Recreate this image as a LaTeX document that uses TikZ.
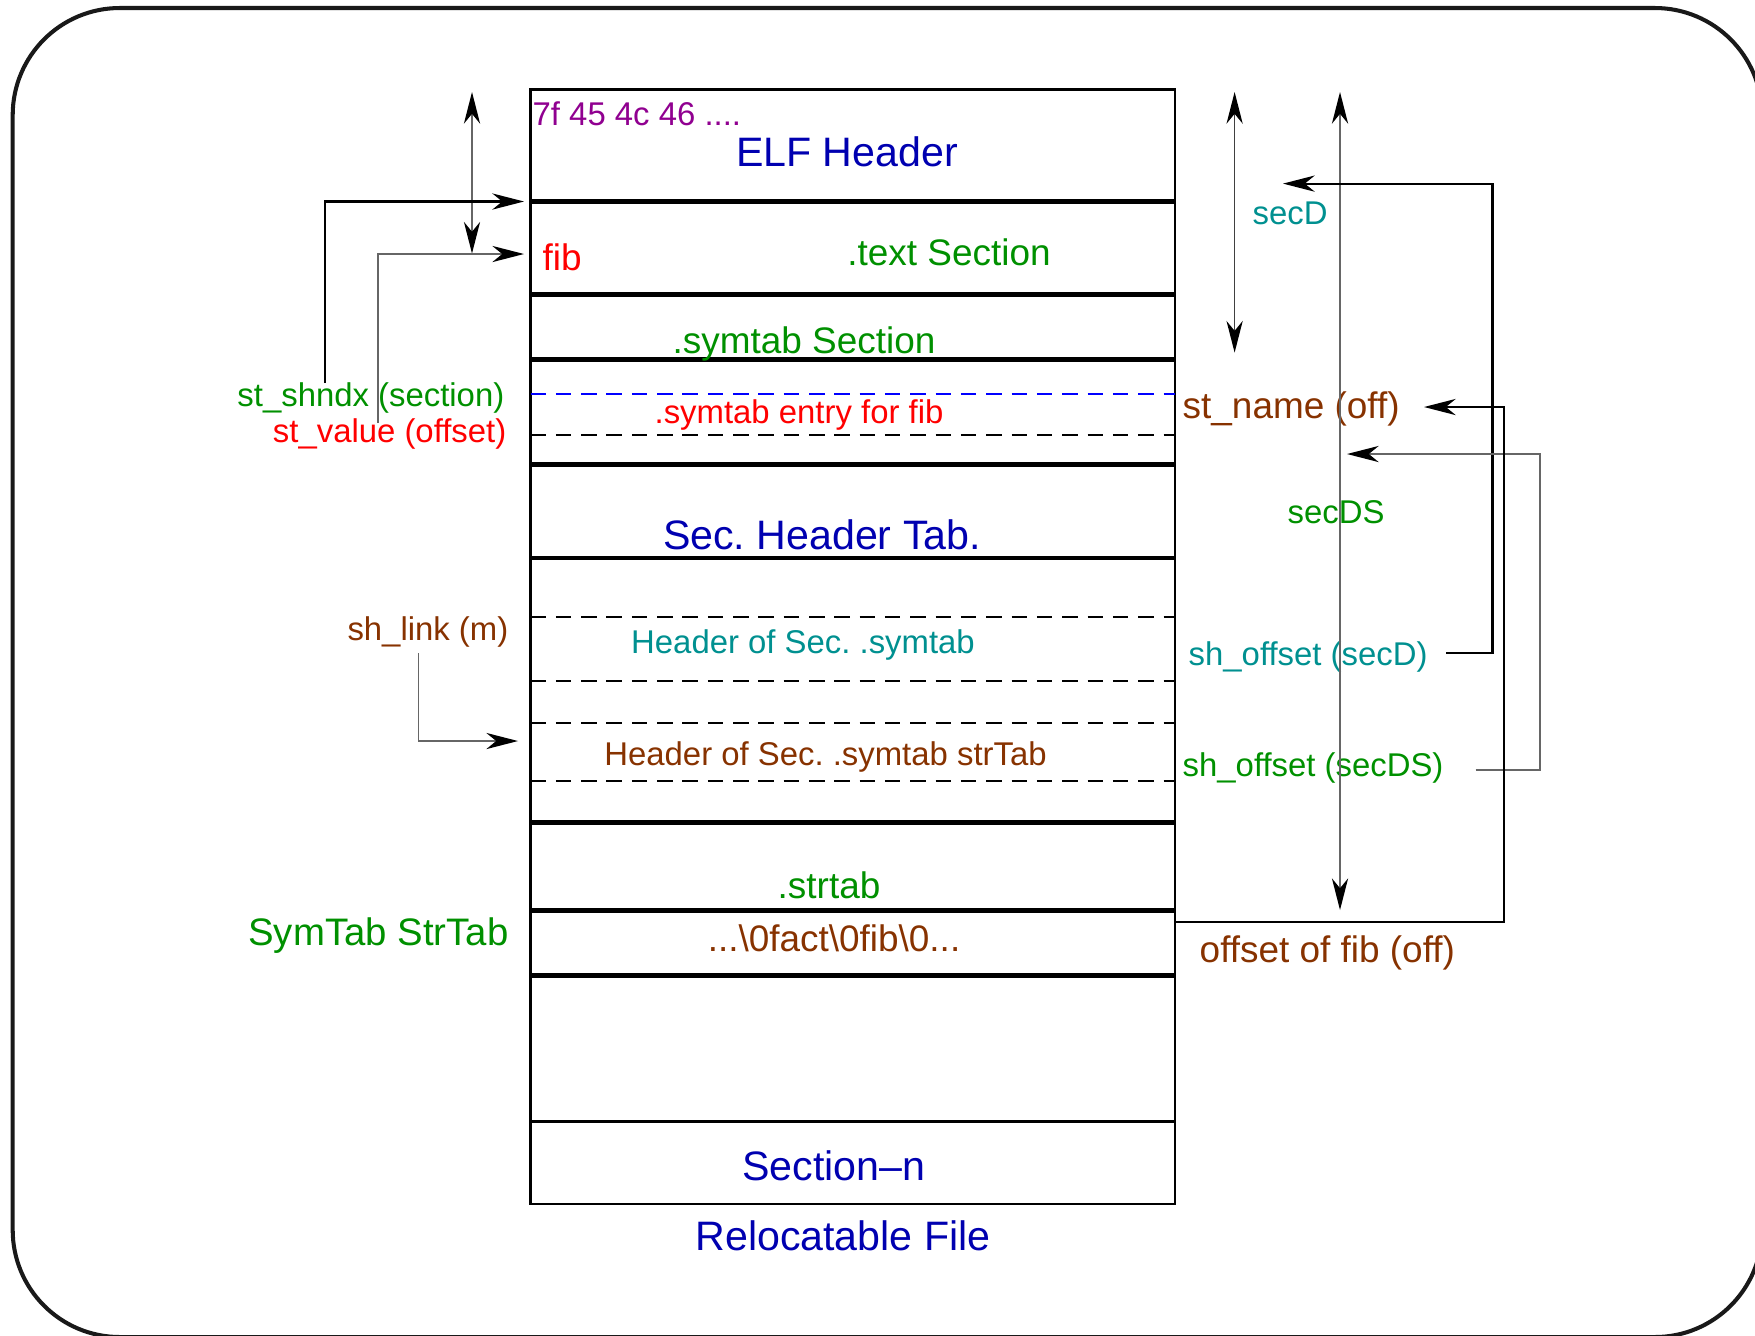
\documentclass[tikz,border=0pt]{standalone}
\usepackage{fontspec}
\setmainfont{Liberation Sans}
\usepackage{tikz}
\usetikzlibrary{arrows.meta}
\definecolor{FigBlue}{RGB}{0,0,176}
\definecolor{FigGreen}{RGB}{0,144,0}
\definecolor{FigCyan}{RGB}{0,144,144}
\definecolor{FigBrown}{RGB}{135,50,0}
\definecolor{FigPurple}{RGB}{144,0,144}
\frenchspacing

\begin{document}
\begin{tikzpicture}[x=0.01cm, y=-0.01cm,
            lbl/.style={inner sep=0pt, font=\fontsize{9.35}{11}\selectfont},
            lblm/.style={inner sep=0pt, font=\fontsize{10.5}{12}\selectfont},
            lbll/.style={inner sep=0pt, font=\fontsize{11.7}{14}\selectfont},
            frame/.style={line width=1.15pt, black!90, rounded corners=1.07cm},
            outline/.style={line width=0.7pt},
            sepline/.style={line width=1.3pt},
            dshline/.style={line width=0.6pt, dash pattern=on 4.4pt off 2.8pt},
            arr/.style={-{Stealth[length=9pt, width=4.6pt, inset=2.8pt, color=black]}, line width=0.6pt},
            arrg/.style={-{Stealth[length=9pt, width=4.6pt, inset=2.8pt, color=black]}, line width=0.45pt, black!60},
            darr/.style={{Stealth[length=9pt, width=4.6pt, inset=2.8pt, color=black]}-{Stealth[length=9pt, width=4.6pt, inset=2.8pt, color=black]}, line width=0.45pt, black!60}
          ]
          \useasboundingbox (0,0) rectangle (1755,1335);
          \draw[frame] (12.7,8) rectangle (1762,1337);

          \draw[outline] (530.5,89.5) rectangle (1175,1204);
          \foreach \y in {201.5,294.5,359.5,464.5,558,822.7,910.5,975.5}
            \draw[sepline] (530.5,\y) -- (1175,\y);
          \draw[outline] (530.5,1121.5) -- (1175,1121.5);
          \foreach \y in {435,617,681,723,781}
            \draw[dshline] (530.5,\y) -- (1175,\y);
          \draw[dshline, blue] (530.5,394) -- (1175,394);

          \node[lbl, text=FigPurple, anchor=base west] (magic) at (532,125) {7f 45 4c 46 ....};
          \node[lbll, text=FigBlue, anchor=base]   (elfhdr)  at (847,166)  {ELF Header};
          \node[lblm, text=red, anchor=base west]  (fib)     at (542,270)  {fib};
          \node[lblm, text=FigGreen, anchor=base]  (textsec) at (949,265)  {.text Section};
          \node[lblm, text=FigGreen, anchor=base]  (symsec)  at (804,353)  {.symtab Section};
          \node[lbl, text=red, anchor=base]        (symfib)  at (799,423)  {.symtab entry for fib};
          \node[lbll, text=FigBlue, anchor=base]   (shtab)   at (822,549)  {Sec. Header Tab.};
          \node[lbl, text=FigCyan, anchor=base]    (hdrsym)  at (803,653)  {Header of Sec. .symtab};
          \node[lbl, text=FigBrown, anchor=base]   (hdrstr)  at (825.5,765) {Header of Sec. .symtab strTab};
          \node[lblm, text=FigGreen, anchor=base]  (strtab)  at (829,898)  {.strtab};
          \node[lblm, text=FigBrown, anchor=base]  (strs)    at (834,951)  {...\textbackslash 0fact\textbackslash 0fib\textbackslash 0...};
          \node[lbll, text=FigBlue, anchor=base]   (secn)    at (834,1180) {Section–n};
          \node[lbll, text=FigBlue, anchor=base]   (relfile) at (843,1250) {Relocatable File};

          \node[lbl, text=FigGreen, anchor=base east]  (shndx)  at (505,406) {st\_shndx (section)};
          \node[lbl, text=red, anchor=base east]       (value)  at (507,442) {st\_value (offset)};
          \node[lbl, text=FigBrown, anchor=base east]  (shlink) at (509,640) {sh\_link (m)};
          \node[lblm, text=FigGreen, anchor=base east, font=\fontsize{10.9}{13}\selectfont] (symstr) at (509,945) {SymTab StrTab};

          \node[lbl, text=FigCyan, anchor=base west]   (secd)   at (1252,224) {secD};
          \node[lblm, text=FigBrown, anchor=base west] (stname) at (1182,418) {st\_name (off)};
          \node[lbl, text=FigGreen, anchor=base west]  (secds)  at (1287,523) {secDS};
          \node[lbl, text=FigCyan, anchor=base west]   (offd)   at (1188,665) {sh\_offset (secD)};
          \node[lbl, text=FigGreen, anchor=base west]  (offds)  at (1182,776) {sh\_offset (secDS)};
          \node[lblm, text=FigBrown, anchor=base west] (offfib) at (1199,962) {offset of fib (off)};

          \coordinate (hdrtop)    at (472,92);
          \coordinate (fibtop)    at (472,253.5);
          \coordinate (txtedge)   at (524,201.5);
          \coordinate (fibedge)   at (524,254);
          \coordinate (shndxup)   at (325,383);
          \coordinate (valueup)   at (378,423);
          \coordinate (linkdown)  at (418.7,653);
          \coordinate (strhdr)    at (518,741);
          \coordinate (filetop)   at (1234.6,92);
          \coordinate (symtop)    at (1234.6,352.6);
          \coordinate (offtop)    at (1340,92);
          \coordinate (offbot)    at (1340,910);
          \coordinate (secdtip)   at (1283,183.6);
          \coordinate (secdstip)  at (1347,454);
          \coordinate (stnametip) at (1424,407);
          \coordinate (offdend)   at (1446,652.7);
          \coordinate (offdsend)  at (1475.5,770);
          \coordinate (strend)    at (1175,922.3);

          \draw[darr] (hdrtop) -- (fibtop);
          \draw[arr]  (shndxup) |- (txtedge);
          \draw[arrg] (valueup) |- (fibedge);
          \draw[arrg] (linkdown) |- (strhdr);
          \draw[darr, black!75] (filetop) -- (symtop);
          \draw[darr] (offtop) -- (offbot);
          \draw[arr]  (offdend) -- ++(46.5,0) |- (secdtip);
          \draw[arrg] (offdsend) -- ++(64.5,0) |- (secdstip);
          \draw[arr]  (strend) -- ++(329,0) |- (stnametip);
        \end{tikzpicture}
\end{document}
